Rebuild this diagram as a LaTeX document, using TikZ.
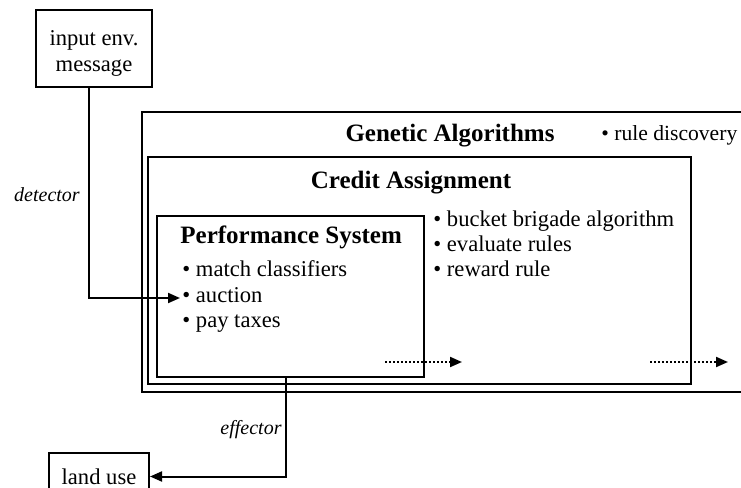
\documentclass[tikz,border=0pt]{standalone}
\usepackage{fontspec}
\setmainfont{Liberation Serif}
\usetikzlibrary{arrows.meta}
\begin{document}
\begin{tikzpicture}[x=0.5pt,y=-0.5pt,
  box/.style={draw,line width=1pt,inner sep=0pt},
  title/.style={font=\fontsize{12.5}{15}\selectfont\bfseries,inner sep=0pt,anchor=base},
  item/.style={font=\fontsize{11.3}{13.5}\selectfont,inner sep=0pt,anchor=base west},
  tag/.style={font=\fontsize{10}{12}\selectfont\itshape,inner sep=0pt},
  link/.style={line width=1pt,-{Triangle[length=6pt,width=5pt]}},
  flow/.style={line width=1pt,dash pattern=on 1pt off 1pt,-{Triangle[length=6pt,width=5pt]}}]
\useasboundingbox (0,0) rectangle (741,488);
\clip (0,0) rectangle (741,488);

% nested system boxes
\node[box,minimum width=319pt,minimum height=140pt] (ga) at (461,252) {};
\node[box,minimum width=271.5pt,minimum height=113.5pt] (ca) at (419.5,270.5) {};
\node[box,minimum width=133.5pt,minimum height=80.5pt] (ps) at (290.5,296.5) {};

% environment boxes
\node[box,minimum width=58pt,minimum height=38.5pt] (input) at (94,48.5) {};
\node[align=center,inner sep=0pt,font=\fontsize{11.3}{13}\selectfont]
      (inputtxt) at (94,53) {input env.\\message};
\node[box,minimum width=50pt,minimum height=23.5pt,
      font=\fontsize{11.3}{13.5}\selectfont] (land) at (99,476.5) {land use};

% titles
\node[title] (gatitle) at (450,141) {Genetic Algorithms};
\node[title] (catitle) at (411,188) {Credit Assignment};
\node[title,anchor=base west] (pstitle) at (180,243) {Performance System};

% activities
\node[item,font=\fontsize{10.8}{13}\selectfont] (rd) at (601,140) {\textbullet\ rule discovery};
\node[item] (bb) at (433,226) {\textbullet\ bucket brigade algorithm};
\node[item] (ev) at (433,251) {\textbullet\ evaluate rules};
\node[item] (rw) at (433,276) {\textbullet\ reward rule};
\node[item] (mc) at (182,276) {\textbullet\ match classifiers};
\node[item] (auction) at (182,302) {\textbullet\ auction};
\node[item] (pt) at (182,327) {\textbullet\ pay taxes};

% detector path into the performance system
\coordinate (det) at (89,298);
\draw[link] (input.south -| det) -- (det) -- ([xshift=-1pt]auction.west |- det);
\node[tag] (detlbl) at (47,195) {detector};

% effector path out to land use
\coordinate (eff) at (286,0);
\draw[link] (ps.south -| eff) -- (eff |- land.east) -- (land.east);
\node[tag] (efflbl) at (251,430) {effector};

% flows out of the inner systems
\coordinate (f1a) at (385,362);
\coordinate (f1b) at (462,362);
\coordinate (f2a) at (650,362);
\coordinate (f2b) at (728,362);
\draw[flow] (f1a) -- (f1b);
\draw[flow] (f2a) -- (f2b);
\end{tikzpicture}
\end{document}
